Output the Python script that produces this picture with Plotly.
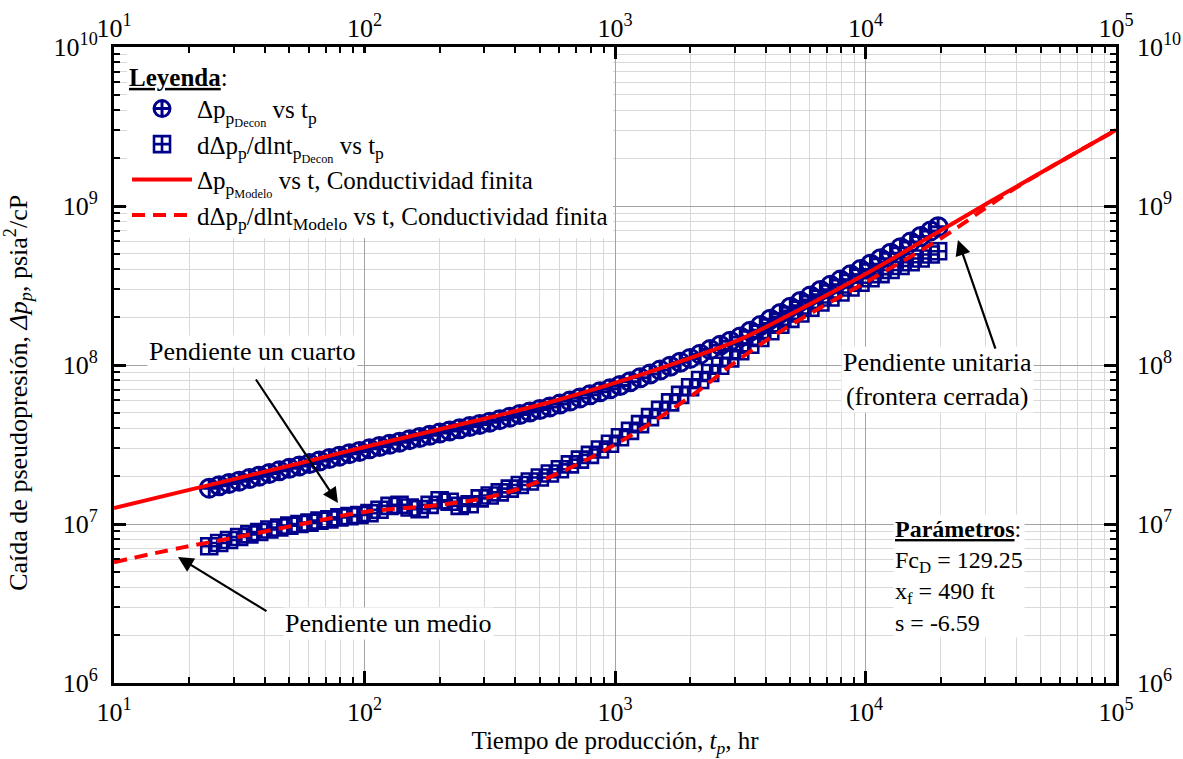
import plotly.graph_objects as go

# Production time (hr) of the deconvolved data
t_data = [24.0, 26.3, 28.8, 31.6, 34.7, 38.0, 41.7, 45.7, 50.1, 55.0,
          60.3, 66.1, 72.4, 79.4, 87.1, 95.5, 104.7, 114.8, 125.9, 138.0,
          151.4, 166.0, 182.0, 199.5, 218.8, 239.9, 263.0, 288.4, 316.2, 346.7,
          380.2, 416.9, 457.1, 501.2, 549.5, 602.6, 660.7, 724.4, 794.3, 871.0,
          955.0, 1047, 1148, 1259, 1380, 1514, 1660, 1820, 1995, 2188,
          2399, 2630, 2884, 3162, 3467, 3802, 4169, 4571, 5012, 5495,
          6026, 6607, 7244, 7943, 8710, 9550, 10470, 11480, 12590, 13800,
          15140, 16600, 18200, 19500]

# Deconvolved pseudo-pressure drop (psia^2/cP)
dp_decon = [1.68e7, 1.74e7, 1.80e7, 1.86e7, 1.93e7, 2.00e7, 2.08e7, 2.16e7, 2.24e7, 2.32e7,
            2.40e7, 2.49e7, 2.58e7, 2.67e7, 2.77e7, 2.86e7, 2.97e7, 3.07e7, 3.17e7, 3.27e7,
            3.39e7, 3.50e7, 3.61e7, 3.73e7, 3.85e7, 3.97e7, 4.10e7, 4.23e7, 4.37e7, 4.53e7,
            4.70e7, 4.88e7, 5.06e7, 5.25e7, 5.45e7, 5.68e7, 5.93e7, 6.21e7, 6.49e7, 6.78e7,
            7.08e7, 7.43e7, 7.85e7, 8.30e7, 8.77e7, 9.29e7, 9.82e7, 1.04e8, 1.10e8, 1.17e8,
            1.25e8, 1.33e8, 1.41e8, 1.50e8, 1.63e8, 1.77e8, 1.94e8, 2.11e8, 2.31e8, 2.51e8,
            2.72e8, 2.94e8, 3.17e8, 3.42e8, 3.69e8, 3.98e8, 4.30e8, 4.66e8, 5.05e8, 5.47e8,
            5.93e8, 6.43e8, 6.97e8, 7.40e8]

# Deconvolved derivative d(dp)/dln t (psia^2/cP)
der_decon = [7.24e6, 7.59e6, 7.94e6, 8.28e6, 8.61e6, 8.91e6, 9.23e6, 9.51e6, 9.77e6, 1.00e7,
             1.02e7, 1.05e7, 1.07e7, 1.10e7, 1.12e7, 1.14e7, 1.17e7, 1.23e7, 1.30e7, 1.32e7,
             1.27e7, 1.24e7, 1.32e7, 1.41e7, 1.38e7, 1.30e7, 1.33e7, 1.45e7, 1.51e7, 1.58e7,
             1.67e7, 1.76e7, 1.85e7, 1.96e7, 2.08e7, 2.21e7, 2.37e7, 2.54e7, 2.72e7, 2.94e7,
             3.20e7, 3.51e7, 3.85e7, 4.25e7, 4.70e7, 5.22e7, 5.82e7, 6.49e7, 7.24e7, 8.04e7,
             8.91e7, 9.89e7, 1.10e8, 1.22e8, 1.34e8, 1.48e8, 1.63e8, 1.79e8, 1.95e8, 2.11e8,
             2.29e8, 2.47e8, 2.66e8, 2.86e8, 3.07e8, 3.29e8, 3.51e8, 3.73e8, 3.96e8, 4.19e8,
             4.43e8, 4.68e8, 4.95e8, 5.19e8]

# Finite-conductivity fracture model
t_model = [10, 17.8, 31.6, 56.2, 100, 178, 316, 562, 1000, 1778,
           3162, 5623, 10000, 17783, 31623, 56234, 100000]
dp_model = [1.26e7, 1.57e7, 1.95e7, 2.43e7, 3.05e7, 3.78e7, 4.68e7, 5.89e7, 7.71e7, 1.04e8,
            1.45e8, 2.29e8, 3.73e8, 6.31e8, 1.07e9, 1.80e9, 3.01e9]
t_model_der = [10, 18.4, 31.6, 56.2, 100, 200, 316, 501, 1000, 1995,
               3162, 5012, 10000, 19953, 39811, 100000]
der_model = [5.75e6, 7.08e6, 8.32e6, 1.00e7, 1.19e7, 1.32e7, 1.48e7, 1.86e7, 3.16e7, 6.31e7,
             1.10e8, 1.78e8, 3.31e8, 6.25e8, 1.30e9, 3.00e9]

decades_x = [10, 100, 1000, 10000, 100000]
decades_y = [1e6, 1e7, 1e8, 1e9, 1e10]
labels_x = ["10<sup>1</sup>", "10<sup>2</sup>", "10<sup>3</sup>", "10<sup>4</sup>", "10<sup>5</sup>"]
labels_y = ["10<sup>6</sup>", "10<sup>7</sup>", "10<sup>8</sup>", "10<sup>9</sup>", "10<sup>10</sup>"]
minor_x = [k * 10 ** n for n in range(1, 5) for k in range(2, 10)]
minor_y = [k * 10 ** n for n in range(6, 10) for k in range(2, 10)]

FONT = "Liberation Serif"
NAVY = "#00008B"
RED = "#FF0000"

fig = go.Figure()

fig.add_trace(go.Scatter(
    x=t_data, y=der_decon, mode="markers", legendrank=2,
    name="dΔp<sub>p</sub>/dlnt<sub>p<sub>Decon</sub></sub> vs t<sub>p</sub>",
    marker=dict(symbol="square-cross-open", size=16, color=NAVY, line=dict(width=2.6, color=NAVY)),
))
fig.add_trace(go.Scatter(
    x=t_data, y=dp_decon, mode="markers", legendrank=1,
    name="Δp<sub>p<sub>Decon</sub></sub> vs t<sub>p</sub>",
    marker=dict(symbol="circle-cross-open", size=18, color=NAVY, line=dict(width=3, color=NAVY)),
))
fig.add_trace(go.Scatter(
    x=t_model_der, y=der_model, mode="lines", line_shape="spline", legendrank=4,
    name="dΔp<sub>p</sub>/dlnt<sub>Modelo</sub> vs t, Conductividad finita",
    line=dict(color=RED, width=4, dash="13px,8px"),
))
fig.add_trace(go.Scatter(
    x=t_model, y=dp_model, mode="lines", line_shape="spline", legendrank=3,
    name="Δp<sub>p<sub>Modelo</sub></sub> vs t, Conductividad finita",
    line=dict(color=RED, width=4),
))

tickfont = dict(family=FONT, size=26, color="black")


def main_axis(vals, text, minor_vals, rng):
    return dict(type="log", range=rng, automargin=False,
                tickmode="array", tickvals=vals, ticktext=text, tickfont=tickfont,
                ticks="inside", ticklen=12, tickwidth=2.5, tickcolor="black",
                showgrid=True, gridcolor="#a3a3a3", gridwidth=1.2,
                minor=dict(tickmode="array", tickvals=minor_vals, ticks="inside",
                           ticklen=6, tickwidth=2, tickcolor="black",
                           showgrid=True, gridcolor="#d9d9d9", gridwidth=1),
                showline=True, linecolor="black", linewidth=3, mirror="ticks",
                zeroline=False)


def label_axis(vals, text, rng, side, over, standoff):
    return dict(type="log", range=rng, automargin=False, overlaying=over, side=side,
                tickmode="array", tickvals=vals, ticktext=text, tickfont=tickfont,
                ticks="", showgrid=False, showline=False, zeroline=False,
                ticklabelstandoff=standoff)


fig.update_layout(
    width=1183, height=759,
    margin=dict(l=114, r=67, t=47, b=76),
    paper_bgcolor="white", plot_bgcolor="white",
    font=dict(family=FONT, size=20, color="black"),
    showlegend=True,
    legend=dict(
        x=0.013, y=0.99, xanchor="left", yanchor="top",
        bgcolor="white", borderwidth=0,
        title=dict(text="<b><u>Leyenda</u></b>:", font=dict(family=FONT, size=25)),
        font=dict(family=FONT, size=25, color="black"),
        itemwidth=60, tracegroupgap=0,
    ),
    xaxis=dict(**main_axis(decades_x, labels_x, minor_x, [1, 5]), ticklabelstandoff=4,
               title=dict(text="Tiempo de producción, <i>t<sub>p</sub></i>, hr",
                          font=dict(family=FONT, size=25), standoff=6)),
    xaxis2=label_axis(decades_x, labels_x, [1, 5], "top", "x", 4),
    yaxis=dict(**main_axis(decades_y, labels_y, minor_y, [6, 10]), ticklabelstandoff=8),
    yaxis2=label_axis(decades_y, labels_y, [6, 10], "right", "y", 20),
)

# Invisible trace so the label-only axes on top and right are drawn
fig.add_trace(go.Scatter(x=[10], y=[1e6], xaxis="x2", yaxis="y2", mode="markers",
                         marker=dict(opacity=0), showlegend=False, hoverinfo="skip"))

# Vertical axis title
fig.add_annotation(
    xref="paper", yref="paper", x=-0.096, y=0.456, textangle=-90, showarrow=False,
    xanchor="center", yanchor="middle",
    text="Caída de pseudopresión, <i>Δp<sub>p</sub></i>, psia<sup>2</sup>/cP",
    font=dict(family=FONT, size=26, color="black"),
)

ann_font = dict(family=FONT, size=26, color="black")

# Slope labels (positions in log10 units on the log axes)
fig.add_annotation(x=1.551, y=8.082, text="Pendiente un cuarto", showarrow=False,
                   font=ann_font, bgcolor="white", xanchor="center", yanchor="middle")
fig.add_annotation(x=2.094, y=6.377, text="Pendiente un medio", showarrow=False,
                   font=ann_font, bgcolor="white", xanchor="center", yanchor="middle")
fig.add_annotation(x=4.289, y=7.906, text="Pendiente unitaria<br>(frontera cerrada)",
                   showarrow=False, font=ann_font, bgcolor="white",
                   xanchor="center", yanchor="middle")

# Arrows pointing at the flow regimes
arrow = dict(text="", showarrow=True, arrowhead=2, arrowsize=1.4, arrowwidth=2.2,
             arrowcolor="black")
fig.add_annotation(x=1.894, y=7.132, ax=-83, ay=-125, **arrow)
fig.add_annotation(x=1.2555, y=6.792, ax=90, ay=55, **arrow)
fig.add_annotation(x=4.369, y=8.786, ax=38, ay=110, **arrow)

# Model parameters
fig.add_annotation(
    x=4.11, y=7.06, xanchor="left", yanchor="top", align="left", showarrow=False,
    bgcolor="white", font=dict(family=FONT, size=24, color="black"),
    text="<b><u>Parámetros</u></b>:<br>Fc<sub>D</sub> = 129.25<br>x<sub>f</sub> = 490 ft<br>s = -6.59",
)

fig.write_html("out.html")
